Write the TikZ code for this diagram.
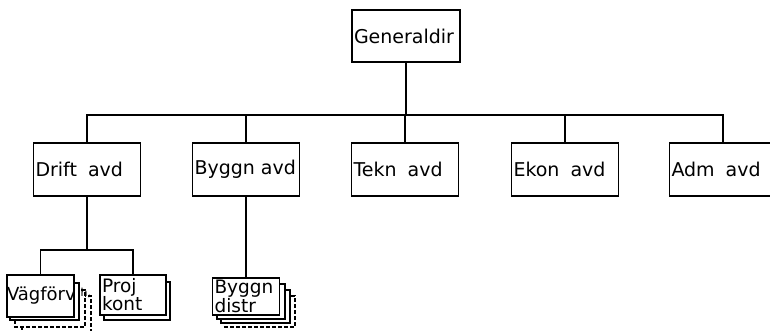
\documentclass[tikz,border=0pt]{standalone}
\usepackage{fontspec}
\setmainfont{DejaVu Sans}
\begin{document}
\begin{tikzpicture}[x=1pt,y=-1pt,
  box/.style={draw, line width=1.3pt, rectangle, fill=white, inner xsep=2pt, inner ysep=0pt,
              align=left, font=\fontsize{19}{19}\selectfont},
  conn/.style={line width=1.2pt},
  ghost/.style={draw, line width=1.1pt, fill=white},
  ghostd/.style={ghost, dash pattern=on 4pt off 2pt},
]
\useasboundingbox (0,0) rectangle (770,331);
\clip (0,0) rectangle (770,331);

% top level
\node[box, minimum width=108pt, minimum height=52pt, text width=104pt] (gen) at (406,36) {\raisebox{-2pt}{Generaldir}};

% departments
\node[box, minimum width=107pt, minimum height=53pt, text width=103pt] (drift) at (87,169.5) {\raisebox{-2pt}{Drift\hspace{11pt}avd}};
\node[box, minimum width=107pt, minimum height=53pt, text width=103pt] (byggn) at (246,169.5) {\raisebox{-2pt}{Byggn\hspace{6pt}avd}};
\node[box, minimum width=107pt, minimum height=53pt, text width=103pt] (tekn) at (405,169.5) {\raisebox{-2pt}{Tekn\hspace{11pt}avd}};
\node[box, minimum width=107pt, minimum height=53pt, text width=103pt] (ekon) at (565,169.5) {\raisebox{-2pt}{Ekon\hspace{11pt}avd}};
\node[box, minimum width=107pt, minimum height=53pt, text width=103pt] (adm) at (723,169.5) {\raisebox{-2pt}{Adm\hspace{11pt}avd}};

% connectors top
\coordinate (bus) at (406,115);
\draw[conn] (gen.south) -- (bus);
\draw[conn] (drift.north) |- (bus) -| (adm.north);
\draw[conn] (byggn.north) -- (byggn.north |- bus);
\draw[conn] (tekn.north) -- (tekn.north |- bus);
\draw[conn] (ekon.north) -- (ekon.north |- bus);

% Vägförv stack (behind copies)
\draw[ghostd] (22,296) rectangle (91,340);
\draw[ghostd] (15,290) rectangle (85,327);
\draw[ghost] (10,283) rectangle (79,320);
\node[font=\fontsize{11}{11}\selectfont, inner sep=0pt, anchor=west] (hfrag) at (80.5,293) {h,};
\node[box, minimum width=67pt, minimum height=42pt, text width=67pt, inner xsep=0pt, font=\fontsize{18}{18}\selectfont] (vag) at (40.5,296) {\raisebox{-2pt}{Vägförv}};

% Proj kont stack
\draw[ghost] (104,282) rectangle (170,320);
\node[box, minimum width=66pt, minimum height=40pt, text width=62pt, font=\fontsize{18.5}{18}\selectfont] (proj) at (133,295) {Proj\\kont};

% Byggn distr stack
\draw[ghostd] (225,296) rectangle (295,327);
\draw[ghost] (221,290) rectangle (290,323);
\draw[ghost] (217,284) rectangle (285,319);
\node[box, minimum width=67pt, minimum height=37pt, text width=63pt, font=\fontsize{18.5}{17}\selectfont] (bdist) at (246,296.5) {Byggn\\distr};

% connectors bottom
\coordinate (bus2) at (87,250);
\draw[conn] (drift.south) -- (bus2);
\draw[conn] (vag.north) |- (bus2) -| (proj.north);
\draw[conn] (byggn.south) -- (bdist.north);
\end{tikzpicture}
\end{document}
